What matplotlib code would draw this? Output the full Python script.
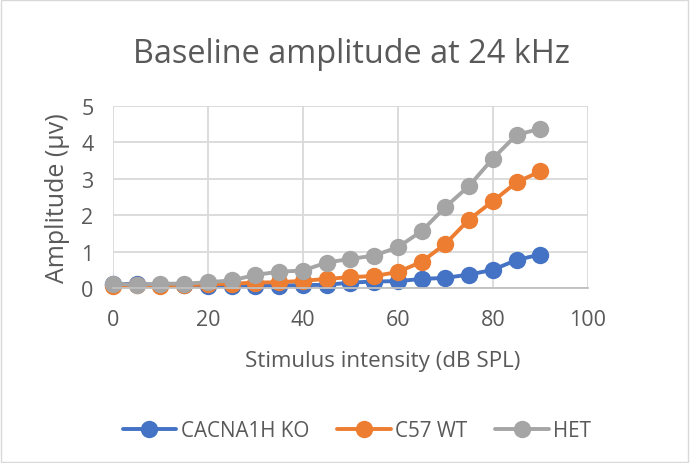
import matplotlib.pyplot as plt
import numpy as np
from matplotlib.patches import Rectangle

# stimulus intensities (dB SPL)
intensity = [0, 5, 10, 15, 20, 25, 30, 35, 40, 45, 50, 55, 60, 65, 70, 75, 80, 85, 90]

# amplitudes (uV)
ko = [0.10, 0.12, 0.08, 0.09, 0.05, 0.06, 0.07, 0.07, 0.08, 0.09, 0.15, 0.18, 0.19, 0.25, 0.28, 0.37, 0.50, 0.77, 0.92]
wt = [0.07, 0.08, 0.05, 0.08, 0.10, 0.12, 0.15, 0.16, 0.20, 0.25, 0.30, 0.33, 0.44, 0.72, 1.21, 1.88, 2.38, 2.90, 3.20]
het = [0.12, 0.09, 0.12, 0.12, 0.16, 0.21, 0.36, 0.45, 0.48, 0.70, 0.80, 0.89, 1.12, 1.56, 2.22, 2.80, 3.55, 4.20, 4.37]

labels = ['CACNA1H KO', 'C57 WT', 'HET']
colors = ['#4472C4', '#ED7D31', '#A5A5A5']
text_col = '#595959'

plt.rcParams['font.family'] = ['Open Sans', 'DejaVu Sans']

fig = plt.figure(figsize=(6.9, 4.64), dpi=100)
ax = fig.add_axes([0.1638, 0.377, 0.688, 0.393])

for y, lab, c in zip([ko, wt, het], labels, colors):
    ax.plot(intensity, y, '-o', color=c, label=lab, lw=2.8, markersize=11.5,
            solid_capstyle='round', clip_on=False)

ax.set_xlim(0, 100)
ax.set_ylim(0, 5)
ax.set_xticks(np.arange(0, 101, 20))
ax.set_yticks(np.arange(0, 6, 1))
ax.grid(True, color='#D9D9D9', lw=1.3)
ax.set_axisbelow(True)
for s in ['top', 'right', 'left']:
    ax.spines[s].set_visible(False)
ax.spines['bottom'].set_color('#BFBFBF')
ax.spines['bottom'].set_linewidth(1.3)
ax.tick_params(length=0, labelsize=15.5, colors=text_col)
ax.tick_params(axis='x', pad=15)
ax.tick_params(axis='y', pad=14)

ax.set_xlabel('Stimulus intensity (dB SPL)', fontsize=16.1, color=text_col, va='baseline')
ax.xaxis.set_label_coords(0.568, -0.428)
ax.set_ylabel('Amplitude (\u00b5v)', fontsize=18, color=text_col, va='center')
ax.yaxis.set_label_coords(-0.118, 0.5)

fig.text(0.509, 1 - 63 / 464, 'Baseline amplitude at 24 kHz', ha='center', va='baseline',
         fontsize=23.4, color=text_col)

fig.legend(loc='center', bbox_to_anchor=(0.517, 0.069), ncol=3, frameon=False,
           fontsize=14.9, labelcolor=text_col, handlelength=2.6, columnspacing=1.35,
           handletextpad=0.2)

fig.patches.append(Rectangle((0.002, 0.003), 0.995, 0.994, transform=fig.transFigure,
                             fill=False, edgecolor='#D9D9D9', lw=1))

fig.savefig('out.png', dpi=100)
